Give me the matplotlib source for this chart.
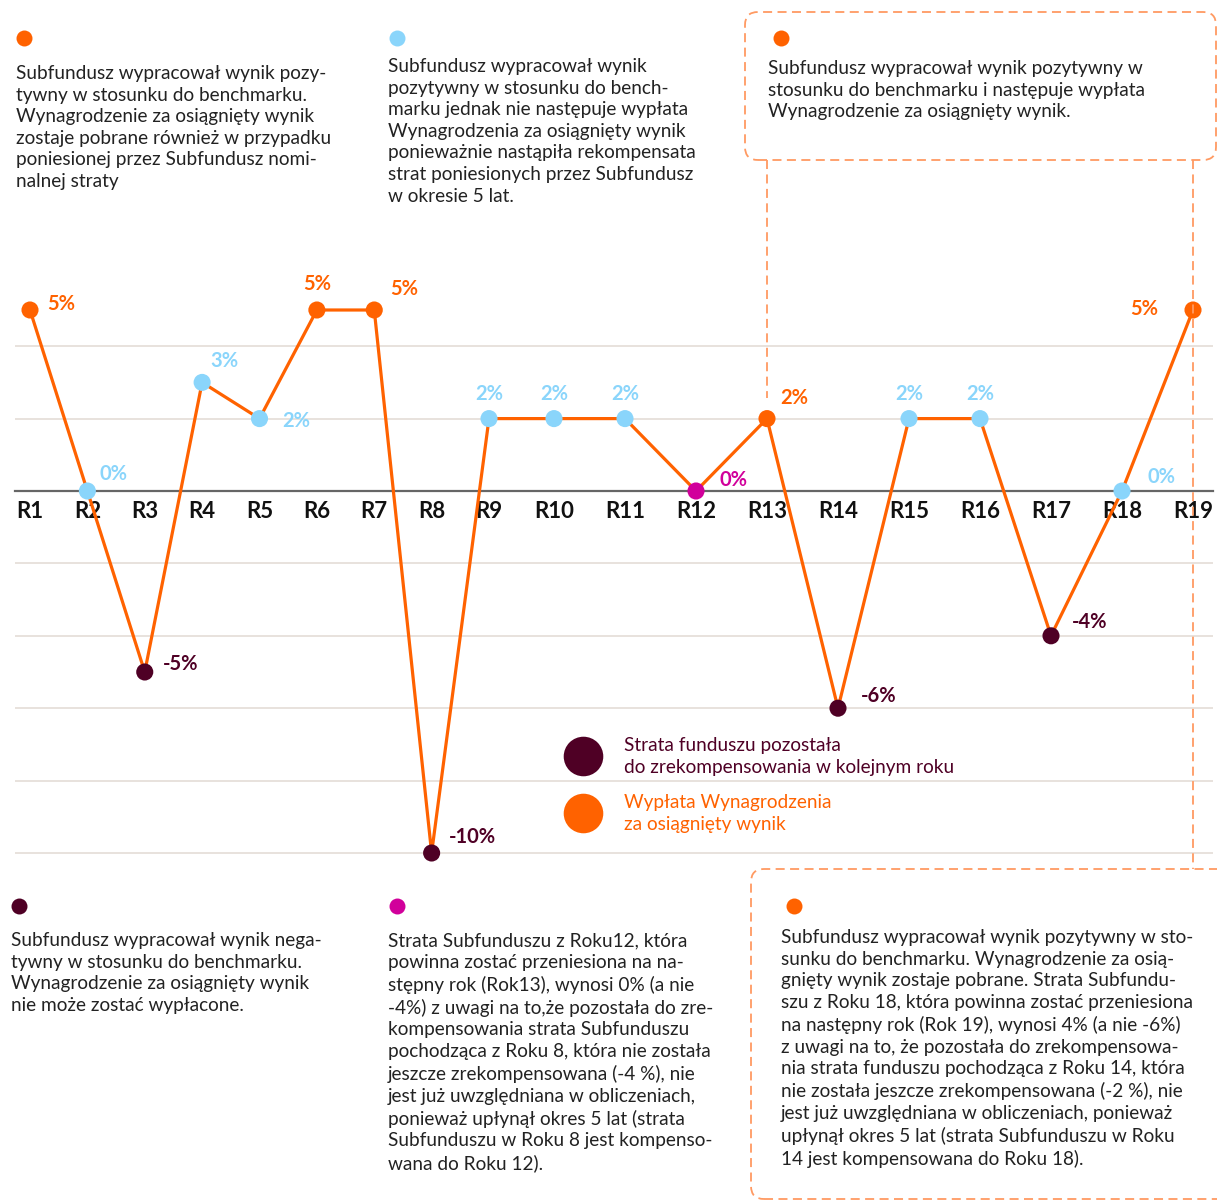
import numpy as np
import matplotlib
matplotlib.use("Agg")
import matplotlib.pyplot as plt
from matplotlib.lines import Line2D
from matplotlib.patches import FancyBboxPatch
from matplotlib.transforms import blended_transform_factory

plt.rcParams['font.family'] = ['Lato', 'DejaVu Sans']

# --- dane ---
lata = ["R1", "R2", "R3", "R4", "R5", "R6", "R7", "R8", "R9", "R10",
        "R11", "R12", "R13", "R14", "R15", "R16", "R17", "R18", "R19"]
wyniki = [5, 0, -5, 3, 2, 5, 5, -10, 2, 2, 2, 0, 2, -6, 2, 2, -4, 0, 5]
status = ["wyplata", "brak", "strata", "brak", "brak", "wyplata", "wyplata",
          "strata", "brak", "brak", "brak", "rekomp", "wyplata", "strata",
          "brak", "brak", "strata", "brak", "wyplata"]

legenda = ["Strata funduszu pozostała\ndo zrekompensowania w kolejnym roku",
           "Wypłata Wynagrodzenia\nza osiągnięty wynik"]

opisy = [
    ("wyplata", "Subfundusz wypracował wynik pozy-\ntywny w stosunku do benchmarku.\n"
                "Wynagrodzenie za osiągnięty wynik\nzostaje pobrane również w przypadku\n"
                "poniesionej przez Subfundusz nomi-\nnalnej straty"),
    ("brak", "Subfundusz wypracował wynik\npozytywny w stosunku do bench-\n"
             "marku jednak nie następuje wypłata\nWynagrodzenia za osiągnięty wynik\n"
             "ponieważnie nastąpiła rekompensata\nstrat poniesionych przez Subfundusz\n"
             "w okresie 5 lat."),
    ("wyplata", "Subfundusz wypracował wynik pozytywny w\nstosunku do benchmarku i następuje wypłata\n"
                "Wynagrodzenie za osiągnięty wynik."),
    ("strata", "Subfundusz wypracował wynik nega-\ntywny w stosunku do benchmarku.\n"
               "Wynagrodzenie za osiągnięty wynik\nnie może zostać wypłacone."),
    ("rekomp", "Strata Subfunduszu z Roku12, która\npowinna zostać przeniesiona na na-\n"
               "stępny rok (Rok13), wynosi 0% (a nie\n-4%) z uwagi na to,że pozostała do zre-\n"
               "kompensowania strata Subfunduszu\npochodząca z Roku 8, która nie została\n"
               "jeszcze zrekompensowana (-4 %), nie\njest już uwzględniana w obliczeniach,\n"
               "ponieważ upłynął okres 5 lat (strata\nSubfunduszu w Roku 8 jest kompenso-\n"
               "wana do Roku 12)."),
    ("wyplata", "Subfundusz wypracował wynik pozytywny w sto-\nsunku do benchmarku. Wynagrodzenie za osią-\n"
                "gnięty wynik zostaje pobrane. Strata Subfundu-\nszu z Roku 18, która powinna zostać przeniesiona\n"
                "na następny rok (Rok 19), wynosi 4% (a nie -6%)\nz uwagi na to, że pozostała do zrekompensowa-\n"
                "nia strata funduszu pochodząca z Roku 14, która\nnie została jeszcze zrekompensowana (-2 %), nie\n"
                "jest już uwzględniana w obliczeniach, ponieważ\nupłynął okres 5 lat (strata Subfunduszu w Roku\n"
                "14 jest kompensowana do Roku 18)."),
]

# --- styl ---
kolory = {"wyplata": "#ff6200", "brak": "#8ad5fb", "strata": "#4f0025", "rekomp": "#d1009b"}
POMARANCZ = "#ff6200"
PRZERYWANA = "#ff9a62"
TEKST = "#222222"
W, H = 1217, 1201
FS = 13.7
LS = 1.33

# przesunięcia etykiet wartości (piksele) i wyrównanie
przesuniecia = [(17, 6, "left"), (12, 17, "left"), (18, 8, "left"), (8, 21, "left"),
                (23, -2, "left"), (0, 26, "center"), (16, 21, "left"), (17, 16, "left"),
                (0, 25, "center"), (0, 25, "center"), (0, 25, "center"), (24, 11, "left"),
                (13, 21, "left"), (23, 12, "left"), (0, 25, "center"), (0, 25, "center"),
                (21, 14, "left"), (25, 14, "left"), (-35, 1, "right")]

# oś X: R1-R9 gęściej, od R10 szerzej (węzły skali w pikselach)
WEZLY_X = np.array([0.0, 8.0, 9.0, 18.0])
WEZLY_U = np.array([0.0, 459.0, 524.0, 1163.0])


def fwd(x):
    x = np.asarray(x, dtype=float)
    u = np.interp(x, WEZLY_X, WEZLY_U)
    u = np.where(x < 0, x * 57.4, u)
    return np.where(x > 18, 1163 + (x - 18) * 71, u)


def inv(u):
    u = np.asarray(u, dtype=float)
    x = np.interp(u, WEZLY_U, WEZLY_X)
    x = np.where(u < 0, u / 57.4, x)
    return np.where(u > 1163, 18 + (u - 1163) / 71, x)


fig = plt.figure(figsize=(W / 100, H / 100), dpi=100)
ax = fig.add_axes([15 / W, 1 - 865 / H, (1213 - 15) / W, (865 - 255) / H])
ax.set_xscale("function", functions=(fwd, inv))
ax.set_xlim(float(inv(-15)), float(inv(1183)))
ax.set_ylim(-(865 - 491) / 36.2, (491 - 255) / 36.2)

x = np.arange(len(lata))
ax.plot(x, wyniki, color=POMARANCZ, lw=2.3, zorder=3, solid_joinstyle="round")
ax.scatter(x, wyniki, s=12.3 ** 2, c=[kolory[s] for s in status], linewidths=0, zorder=4)

for xi, v, s, (dx, dy, ha) in zip(x, wyniki, status, przesuniecia):
    ax.annotate(f"{v}%", (xi, v), xytext=(dx, dy), textcoords="offset pixels",
                ha=ha, va="center", fontsize=14.5, fontweight="bold",
                color=kolory[s], zorder=5)

# podpisy lat pod linią zera
for xi, rok in zip(x, lata):
    ax.annotate(rok, (xi, 0), xytext=(0, -20), textcoords="offset pixels",
                ha="center", va="center", fontsize=16, fontweight="bold",
                color="#111111", zorder=2)

ax.set_xticks(x)
ax.set_yticks(np.arange(-10, 5, 2))
ax.tick_params(axis="both", length=0, labelbottom=False, labelleft=False)
ax.grid(axis="y", color="#e6dfda", lw=1.3)
ax.grid(axis="x", visible=False)
ax.set_axisbelow(True)
for k in ["top", "left", "right"]:
    ax.spines[k].set_visible(False)
ax.spines["bottom"].set_position(("data", 0))
ax.spines["bottom"].set_color("#666666")
ax.spines["bottom"].set_linewidth(1.6)
ax.patch.set_visible(False)

# ramki z przerywaną linią
inch = fig.dpi_scale_trans
for (x0, y0, x1, y1) in [(745, 12, 1216, 160), (751, 869, 1250, 1199)]:
    fig.add_artist(FancyBboxPatch((x0 / 100, (H - y1) / 100), (x1 - x0) / 100, (y1 - y0) / 100,
                                  boxstyle="round,pad=0,rounding_size=0.13", transform=inch,
                                  fill=False, ec=PRZERYWANA, lw=1.3, ls=(0, (5, 3))))

trans = blended_transform_factory(ax.transData, fig.transFigure)
fig.add_artist(Line2D([12, 12], [1 - 160 / H, 1 - 398 / H], transform=trans,
                      color=PRZERYWANA, lw=1.3, ls=(0, (5, 3)), zorder=1))
fig.add_artist(Line2D([18, 18], [1 - 160 / H, 1 - 869 / H], transform=trans,
                      color=PRZERYWANA, lw=1.3, ls=(0, (5, 3)), zorder=1))

# opisy z kropkami
pozycje_opisow = [(24, 38, 16, 65), (397, 38, 388, 58), (781, 38, 768, 60),
                  (19, 906, 11, 932), (397, 906, 388, 932), (794, 906, 781, 929)]
for (kat, txt), (dx, dy, tx, ty) in zip(opisy, pozycje_opisow):
    fig.add_artist(Line2D([dx / 100], [(H - dy) / 100], transform=inch, marker="o",
                          ms=11.5, mew=0, color=kolory[kat]))
    fig.text(tx / W, 1 - ty / H, txt, ha="left", va="top", fontsize=FS,
             color=TEKST, linespacing=LS)

# legenda
for (ly, kat), txt in zip([(756, "strata"), (813, "wyplata")], legenda):
    fig.add_artist(Line2D([583 / 100], [(H - ly) / 100], transform=inch, marker="o",
                          ms=28.5, mew=0, color=kolory[kat]))
    fig.text(624 / W, 1 - (ly - 19) / H, txt, ha="left", va="top", fontsize=FS,
             color=kolory[kat], linespacing=LS)

fig.savefig("out.png", dpi=100)
